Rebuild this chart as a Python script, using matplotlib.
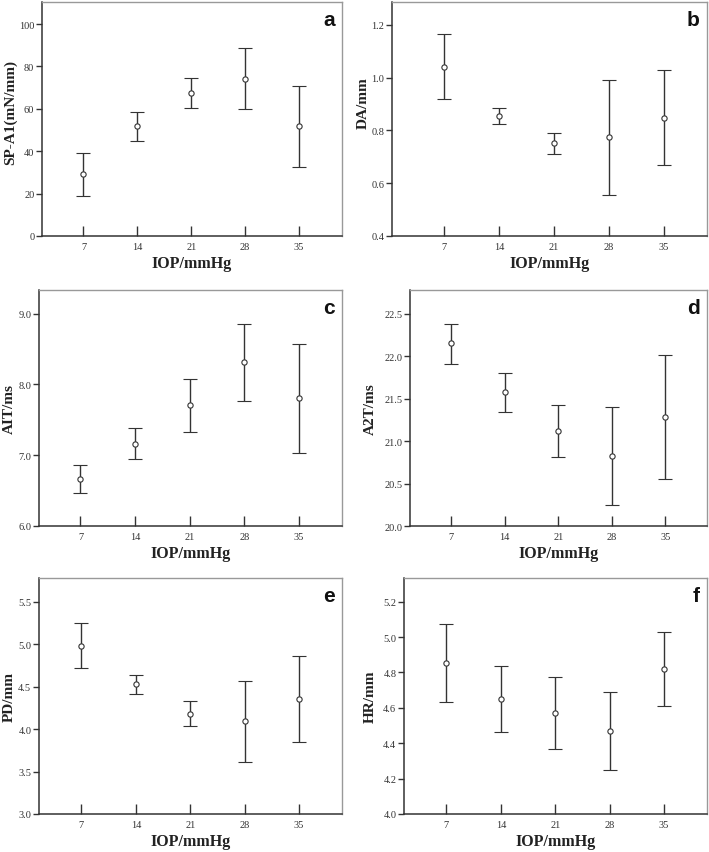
import matplotlib
matplotlib.use("Agg")
import matplotlib.pyplot as plt
import numpy as np

iop = ["7", "14", "21", "28", "35"]

sp_mean = [29.1, 51.7, 67.6, 74.2, 51.7]
sp_low = [19.0, 44.8, 60.5, 59.9, 32.7]
sp_high = [39.2, 58.6, 74.7, 88.7, 70.6]

da_mean = [1.040, 0.854, 0.751, 0.774, 0.848]
da_low = [0.917, 0.824, 0.712, 0.556, 0.669]
da_high = [1.166, 0.884, 0.791, 0.991, 1.028]

ait_mean = [6.665, 7.165, 7.703, 8.311, 7.807]
ait_low = [6.462, 6.948, 7.325, 7.769, 7.038]
ait_high = [6.868, 7.387, 8.080, 8.858, 8.571]

a2t_mean = [22.150, 21.576, 21.116, 20.825, 21.285]
a2t_low = [21.914, 21.344, 20.818, 20.248, 20.558]
a2t_high = [22.382, 21.804, 21.423, 21.403, 22.009]

pd_mean = [4.978, 4.527, 4.181, 4.091, 4.358]
pd_low = [4.715, 4.413, 4.032, 3.616, 3.852]
pd_high = [5.249, 4.633, 4.327, 4.566, 4.860]

hr_mean = [4.853, 4.652, 4.573, 4.471, 4.818]
hr_low = [4.635, 4.465, 4.369, 4.251, 4.610]
hr_high = [5.072, 4.838, 4.776, 4.691, 5.029]

W, H = 709, 853
fig = plt.figure(figsize=(W / 100, H / 100), dpi=100)

panels = [
    # letter, ylabel, mean, low, high, yticks, ylim, yfmt, pixel box (l, r, t, b), xlim, ylabel x, ylabel y
    ("a", "SP-A1(mN/mm)", sp_mean, sp_low, sp_high, [0, 20, 40, 60, 80, 100], (0, 110.4), "{:.0f}", (42, 342, 3, 237), (-0.77, 4.80), -0.083, 0.53),
    ("b", "DA/mm", da_mean, da_low, da_high, [0.4, 0.6, 0.8, 1.0, 1.2], (0.4, 1.286), "{:.1f}", (392, 707, 3, 237), (-0.94, 4.78), -0.072, 0.57),
    ("c", "AIT/ms", ait_mean, ait_low, ait_high, [6.0, 7.0, 8.0, 9.0], (6.0, 9.335), "{:.1f}", (39, 342, 291, 527), (-0.76, 4.79), -0.076, 0.5),
    ("d", "A2T/ms", a2t_mean, a2t_low, a2t_high, [20.0, 20.5, 21.0, 21.5, 22.0, 22.5], (20.0, 22.78), "{:.1f}", (410, 707, 291, 527), (-0.77, 4.78), -0.111, 0.5),
    ("e", "PD/mm", pd_mean, pd_low, pd_high, [3.0, 3.5, 4.0, 4.5, 5.0, 5.5], (3.0, 5.78), "{:.1f}", (39, 342, 579, 815), (-0.78, 4.79), -0.076, 0.5),
    ("f", "HR/mm", hr_mean, hr_low, hr_high, [4.0, 4.2, 4.4, 4.6, 4.8, 5.0, 5.2], (4.0, 5.334), "{:.1f}", (404, 707, 579, 815), (-0.78, 4.79), -0.089, 0.5),
]

serif = ["Liberation Serif", "DejaVu Serif"]
dark = "#333333"

for letter, ylab, m, lo, hi, yt, yl, fmt, box, xl, ylx, yly in panels:
    l, r, t, b = box
    ax = fig.add_axes([l / W, 1 - b / H, (r - l) / W, (b - t) / H])
    x = np.arange(len(iop))
    m = np.array(m)
    yerr = np.vstack([m - np.array(lo), np.array(hi) - m])
    ax.errorbar(x, m, yerr=yerr, fmt="o", color=dark, ecolor=dark, elinewidth=1.0,
                capsize=5, capthick=1.0, markersize=3.8, markerfacecolor="white",
                markeredgecolor=dark, markeredgewidth=0.8)
    ax.set_xlim(*xl)
    ax.set_ylim(*yl)
    ax.set_xticks(x)
    ax.set_xticklabels(iop, fontfamily=serif, fontsize=7.5, color=dark)
    ax.set_yticks(yt)
    ax.set_yticklabels([fmt.format(v) for v in yt], fontfamily=serif, fontsize=7.5, color=dark)
    ax.tick_params(axis="x", direction="in", length=7, width=1.0, color=dark, pad=4)
    ax.tick_params(axis="y", direction="out", length=4, width=1.0, color=dark, pad=1.5)
    for s in ["left", "bottom"]:
        ax.spines[s].set_color(dark)
        ax.spines[s].set_linewidth(1.1)
    for s in ["top", "right"]:
        ax.spines[s].set_color("#999999")
        ax.spines[s].set_linewidth(1.0)
    ax.set_xlabel("IOP/mmHg", fontfamily=serif, fontsize=11.5, fontweight="bold", color="#222222")
    ax.xaxis.set_label_coords(0.5, -19 / (b - t))
    ax.set_ylabel(ylab, fontfamily=serif, fontsize=11, fontweight="bold", color="#222222")
    ax.yaxis.set_label_coords(ylx, yly)
    ax.text(0.975, 0.965, letter, transform=ax.transAxes, ha="right", va="top",
            fontfamily=["Liberation Sans", "DejaVu Sans"], fontsize=15, fontweight="bold",
            color="#111111")

fig.savefig("out.png", dpi=100, facecolor="white")
